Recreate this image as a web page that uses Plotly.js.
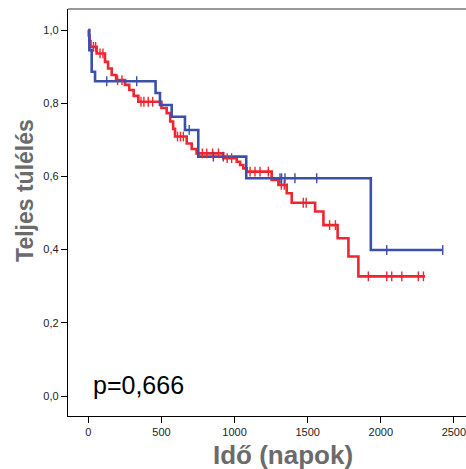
<!DOCTYPE html>
<html>
<head>
<meta charset="utf-8">
<script src="https://cdn.plot.ly/plotly-3.0.1.min.js"></script>
<style>html,body{margin:0;padding:0;background:#fff}#chart{width:466px;height:469px}</style>
</head>
<body>
<div id="chart"></div>
<script>
// Kaplan–Meier step data (time in days, survival after each drop)
const blueT = [0, 7, 23, 46, 460, 490, 570, 661, 752, 1080, 1932];
const blueS = [1.0, 0.945, 0.886, 0.86, 0.828, 0.795, 0.763, 0.727, 0.654, 0.595, 0.399];
const blueEnd = 2424;
const blueCens = [126, 331, 690, 855, 923, 1311, 1322, 1345, 1413, 1562, 2041, 2424];

const redT = [0, 3, 8, 15, 57, 114, 135, 160, 190, 251, 280, 310, 342, 500, 536, 560, 580, 593, 673, 707, 740, 923, 1015, 1038, 1060, 1083, 1254, 1300, 1357, 1391, 1551, 1608, 1705, 1779, 1847];
const redS = [1.0, 0.985, 0.97, 0.954, 0.936, 0.913, 0.895, 0.877, 0.863, 0.85, 0.836, 0.82, 0.804, 0.787, 0.773, 0.75, 0.73, 0.709, 0.69, 0.675, 0.663, 0.65, 0.64, 0.631, 0.622, 0.613, 0.59, 0.577, 0.554, 0.528, 0.504, 0.467, 0.431, 0.381, 0.327];
const redEnd = 2303;
const redCens = [35, 50, 80, 100, 200, 230, 360, 380, 410, 440, 610, 630, 650, 780, 810, 850, 890, 950, 980, 1106, 1140, 1174, 1231, 1320, 1340, 1470, 1490, 1650, 1690, 1915, 2041, 2075, 2144, 2257, 2292];

const xTickVals = [0, 500, 1000, 1500, 2000, 2500];
const yTickVals = [0, 0.2, 0.4, 0.6, 0.8, 1.0];
const yTickText = ['0,0', '0,2', '0,4', '0,6', '0,8', '1,0'];

const RED = '#ee2630';
const BLUE = '#3a50aa';

function stepAt(T, S, t) {
  let v = S[0];
  for (let i = 0; i < T.length; i++) { if (T[i] <= t) v = S[i]; }
  return v;
}
function curve(T, S, end) {
  return { x: T.concat([end]), y: S.concat([S[S.length - 1]]) };
}
const rc = curve(redT, redS, redEnd);
const bc = curve(blueT, blueS, blueEnd);

const traces = [
  { x: rc.x, y: rc.y, mode: 'lines', line: { shape: 'hv', color: RED, width: 2.6 }, hoverinfo: 'skip' },
  { x: bc.x, y: bc.y, mode: 'lines', line: { shape: 'hv', color: BLUE, width: 2.6 }, hoverinfo: 'skip' },
  { x: redCens, y: redCens.map(t => stepAt(redT, redS, t)), mode: 'markers',
    marker: { symbol: 'line-ns', size: 7, line: { color: RED, width: 1.4 } }, hoverinfo: 'skip' },
  { x: blueCens, y: blueCens.map(t => stepAt(blueT, blueS, t)), mode: 'markers',
    marker: { symbol: 'line-ns', size: 7, line: { color: BLUE, width: 1.4 } }, hoverinfo: 'skip' }
];

const FONT = 'Liberation Sans, Arial, sans-serif';
const layout = {
  width: 466, height: 469,
  margin: { l: 68, r: 0, t: 9, b: 53 },
  paper_bgcolor: '#fff', plot_bgcolor: '#fff',
  showlegend: false,
  font: { family: FONT, color: '#222', size: 11 },
  xaxis: {
    range: [-139, 2583], showgrid: false, zeroline: false,
    tickvals: xTickVals, ticktext: xTickVals.map(String),
    ticks: 'outside', ticklen: 6, tickwidth: 1, tickcolor: '#000',
    showline: true, linecolor: '#000', linewidth: 1.2,
    ticklabeloverflow: 'allow',
    tickfont: { family: FONT, size: 11, color: '#222' }
  },
  yaxis: {
    range: [-0.0546, 1.0574], showgrid: false, zeroline: false,
    tickvals: yTickVals, ticktext: yTickText,
    ticks: 'outside', ticklen: 6, tickwidth: 1, tickcolor: '#000',
    showline: true, linecolor: '#000', linewidth: 1.2,
    tickfont: { family: FONT, size: 11, color: '#222' }
  },
  shapes: [
    { type: 'line', xref: 'paper', yref: 'paper', x0: 0, x1: 1, y0: 1, y1: 1,
      line: { color: '#777', width: 1.5 } }
  ],
  annotations: [
    { text: 'Idő (napok)', xref: 'paper', yref: 'paper', x: 0.54, y: -0.096,
      xanchor: 'center', yanchor: 'middle', showarrow: false,
      font: { family: FONT, size: 26, color: '#6b6b6b', weight: 'bold' } },
    { text: 'Teljes túlélés', xref: 'paper', yref: 'paper', x: -0.108, y: 0.553,
      xanchor: 'center', yanchor: 'middle', showarrow: false, textangle: -90,
      font: { family: FONT, size: 23, color: '#6b6b6b', weight: 'bold' } },
    { text: 'p=0,666', xref: 'paper', yref: 'paper', x: 0.178, y: 0.076,
      xanchor: 'center', yanchor: 'middle', showarrow: false,
      font: { family: FONT, size: 25, color: '#000' } }
  ]
};

Plotly.newPlot('chart', traces, layout, { displayModeBar: false, staticPlot: true });
</script>
</body>
</html>
